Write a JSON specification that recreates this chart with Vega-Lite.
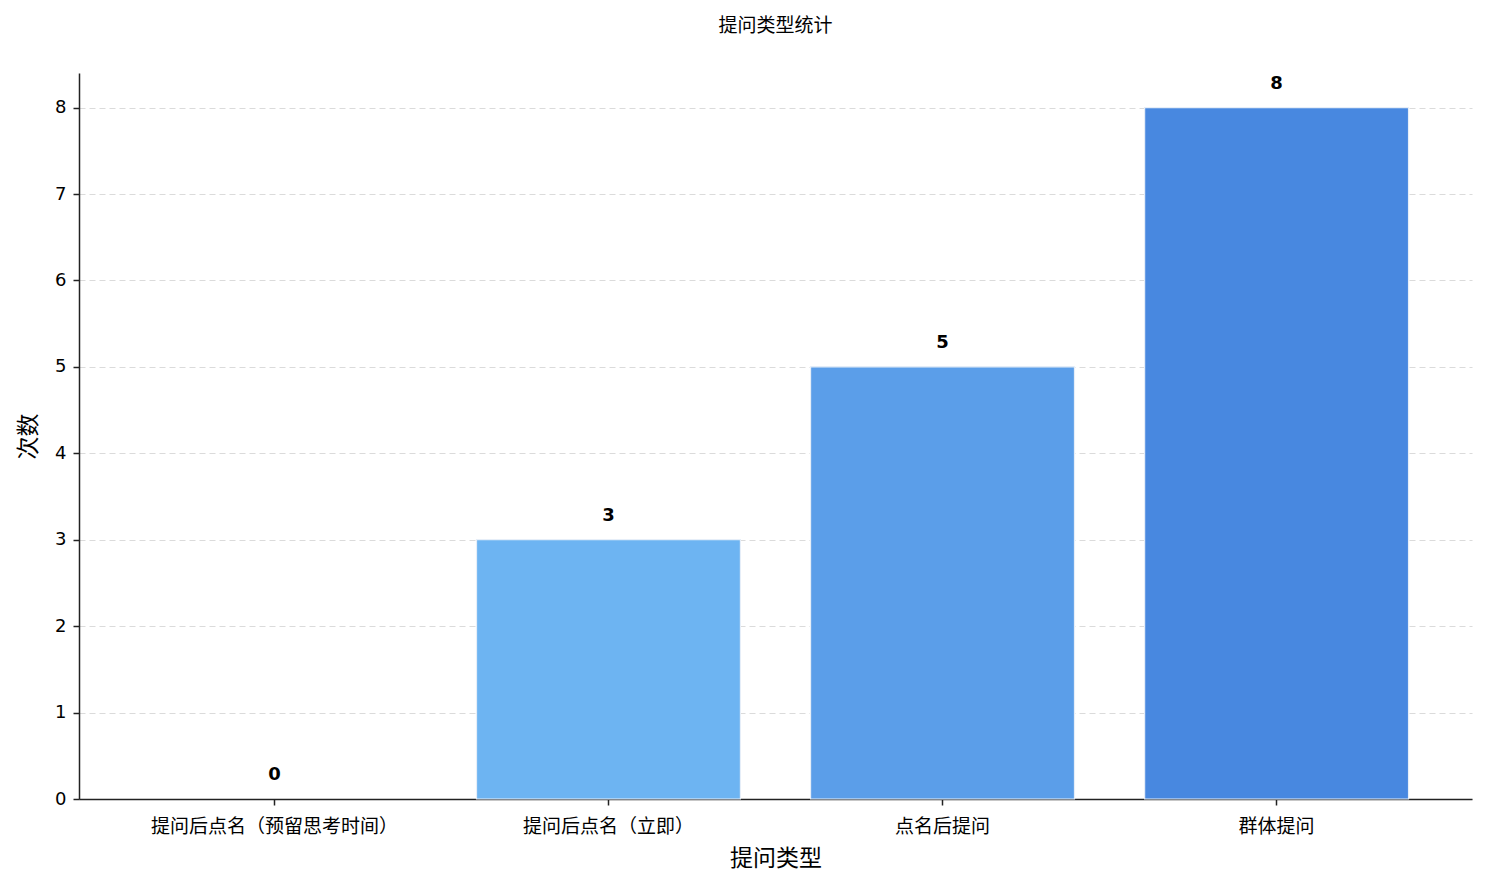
{
  "$schema": "https://vega.github.io/schema/vega-lite/v6.json",
  "autosize": "none",
  "width": 1393,
  "height": 726,
  "padding": {"left": 79, "top": 73, "right": 16, "bottom": 90},
  "background": "white",
  "title": {
    "text": "提问类型统计",
    "font": "Noto Sans CJK SC",
    "fontSize": 19,
    "fontWeight": "normal",
    "color": "#000000",
    "anchor": "middle",
    "offset": 37
  },
  "config": {
    "view": {"stroke": null},
    "axis": {
      "domainColor": "#222222",
      "domainWidth": 1.5,
      "tickColor": "#222222",
      "tickWidth": 1.5,
      "tickSize": 6,
      "labelColor": "#000000",
      "titleColor": "#000000",
      "titleFontWeight": "normal"
    }
  },
  "data": {
    "values": [
      {"type": "提问后点名（预留思考时间）", "count": 0},
      {"type": "提问后点名（立即）", "count": 3},
      {"type": "点名后提问", "count": 5},
      {"type": "群体提问", "count": 8}
    ]
  },
  "encoding": {
    "x": {
      "field": "type",
      "type": "nominal",
      "sort": null,
      "scale": {"paddingInner": 0.21, "paddingOuter": 0.19},
      "axis": {
        "title": "提问类型",
        "titleFont": "Noto Sans CJK SC",
        "titleFontSize": 23,
        "titlePadding": 11,
        "labelFont": "Noto Sans CJK SC",
        "labelFontSize": 19,
        "labelAngle": 0,
        "labelPadding": 12,
        "labelLimit": 0,
        "grid": false
      }
    },
    "y": {
      "field": "count",
      "type": "quantitative",
      "scale": {"domain": [0, 8.4], "nice": false},
      "axis": {
        "title": "次数",
        "titleFont": "Noto Sans CJK SC",
        "titleFontSize": 23,
        "titlePadding": 14,
        "labelFont": "DejaVu Sans",
        "labelFontSize": 18,
        "labelPadding": 7,
        "values": [0, 1, 2, 3, 4, 5, 6, 7, 8],
        "format": "d",
        "grid": true,
        "gridColor": "#cccccc",
        "gridDash": [6, 4],
        "gridOpacity": 0.7
      }
    }
  },
  "layer": [
    {
      "mark": {"type": "bar", "stroke": "#e6eef8", "strokeWidth": 1.2},
      "encoding": {
        "color": {
          "field": "type",
          "type": "nominal",
          "sort": null,
          "scale": {"range": ["#8cc4f4", "#6db4f2", "#5b9ee9", "#4888e0"]},
          "legend": null
        },
        "strokeOpacity": {
          "condition": {"test": "datum.count === 0", "value": 0},
          "value": 1
        }
      }
    },
    {
      "mark": {"type": "text", "baseline": "middle", "dy": -24, "font": "DejaVu Sans", "fontSize": 18, "fontWeight": "bold", "color": "#000000"},
      "encoding": {
        "text": {"field": "count", "type": "quantitative"}
      }
    }
  ]
}
